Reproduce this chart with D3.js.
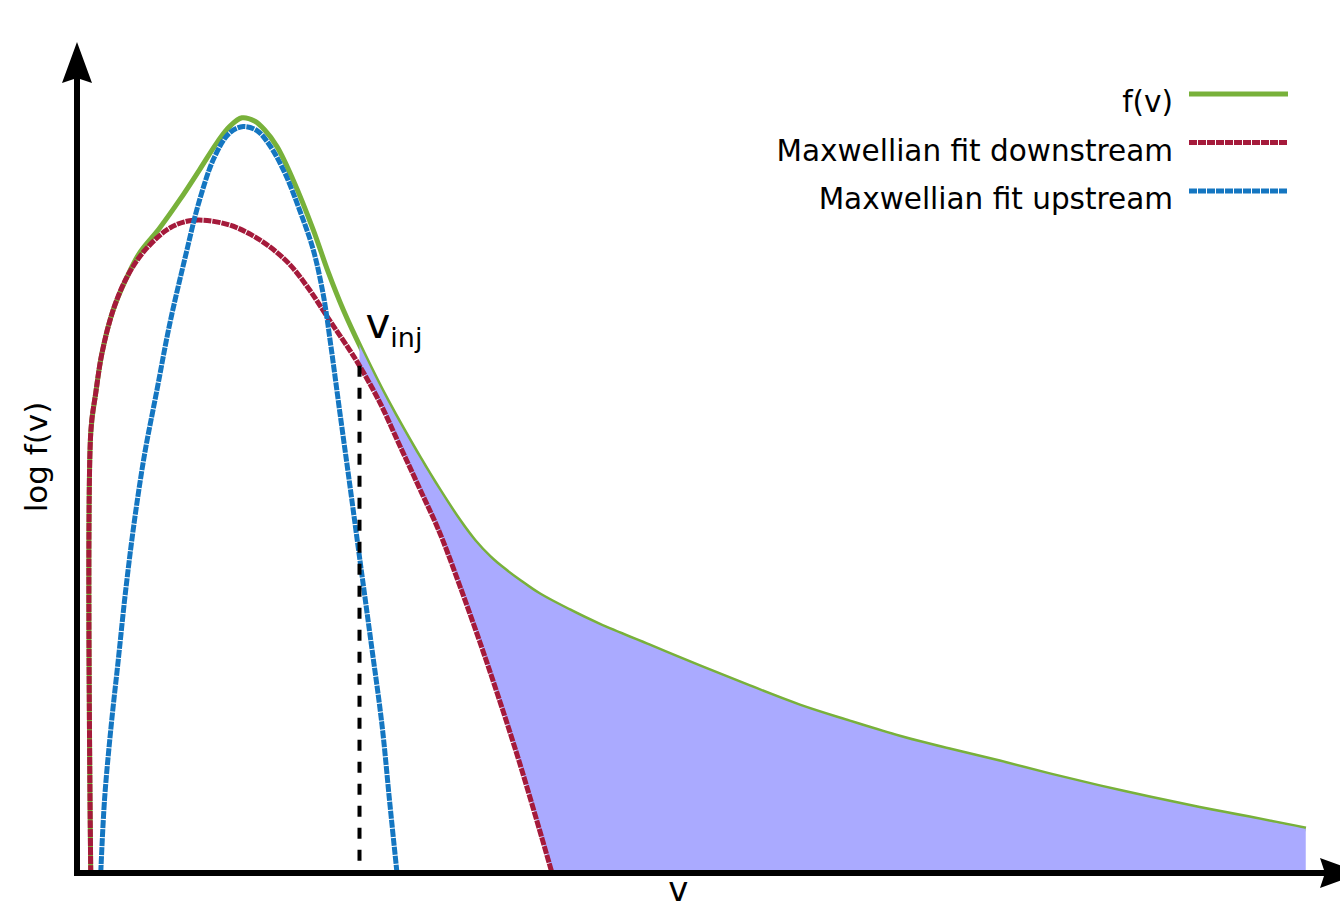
<!DOCTYPE html>
<html>
<head>
<meta charset="utf-8">
<script src="https://cdn.jsdelivr.net/npm/d3@7"></script>
<style>
  body { margin: 0; background: #fff; }
  svg { display: block; font-family: "DejaVu Sans", sans-serif; }
</style>
</head>
<body>
<svg id="chart"></svg>
<script>
// values, arbitrary units (v, log f)
var vF = [0.11, 0.11, 0.15, 0.2, 0.29, 0.4, 0.5, 0.66, 0.82, 0.98, 1.12, 1.22, 1.32, 1.42, 1.5, 1.6, 1.73, 1.89, 2.01, 2.13, 2.29, 2.48, 2.74, 2.9, 3.06, 3.18, 3.3, 3.42, 3.54, 3.7, 3.94, 4.18, 4.58, 4.98, 5.38, 5.78, 6.18, 6.58, 6.98, 7.38, 7.78, 8.18, 8.58, 8.98, 9.38, 9.83];
var fF = [0, 5.5, 6.0, 6.5, 7.04, 7.45, 7.75, 8.06, 8.41, 8.79, 9.13, 9.33, 9.44, 9.4, 9.29, 9.08, 8.66, 8.04, 7.51, 7.04, 6.5, 5.91, 5.19, 4.78, 4.4, 4.15, 3.95, 3.79, 3.65, 3.48, 3.28, 3.1, 2.84, 2.58, 2.33, 2.09, 1.89, 1.7, 1.54, 1.39, 1.23, 1.08, 0.94, 0.81, 0.69, 0.55];

var vDown = [0.11, 0.11, 0.15, 0.2, 0.29, 0.4, 0.53, 0.72, 0.86, 1.01, 1.22, 1.38, 1.54, 1.7, 1.86, 2.02, 2.18, 2.26, 2.42, 2.58, 2.74, 2.9, 3.06, 3.22, 3.38, 3.54, 3.7, 3.8];
var fDown = [0, 5.5, 6.0, 6.5, 7.04, 7.45, 7.76, 8.04, 8.14, 8.16, 8.1, 7.99, 7.83, 7.61, 7.29, 6.91, 6.54, 6.34, 5.89, 5.35, 4.81, 4.26, 3.6, 2.9, 2.16, 1.38, 0.54, 0];

var vUp = [0.19, 0.22, 0.27, 0.33, 0.39, 0.46, 0.54, 0.64, 0.74, 0.86, 0.98, 1.1, 1.22, 1.33, 1.44, 1.54, 1.66, 1.78, 1.89, 1.97, 2.03, 2.1, 2.18, 2.26, 2.35, 2.44, 2.5, 2.56];
var fUp = [0, 0.91, 1.79, 2.66, 3.54, 4.41, 5.23, 6.04, 6.85, 7.66, 8.41, 8.95, 9.25, 9.33, 9.28, 9.1, 8.76, 8.29, 7.79, 7.23, 6.6, 5.79, 4.88, 3.95, 2.91, 1.85, 0.91, 0];

var vInj = 2.26;

var legendLabels = ["f(v)", "Maxwellian fit downstream", "Maxwellian fit upstream"];
var legendColors = ["#78b13a", "#a51a3b", "#1476c1"];

var W = 1340, H = 909;
var svg = d3.select("#chart").attr("width", W).attr("height", H);

var x = d3.scaleLinear().domain([0, 10]).range([77, 1327]);
var y = d3.scaleLinear().domain([0, 10]).range([873, 73]);

var green = d3.zip(vF, fF);
var down = d3.zip(vDown, fDown);
var up = d3.zip(vUp, fUp);

var curve = d3.curveCatmullRom.alpha(0.5);

var line = d3.line()
  .x(d => x(d[0]))
  .y(d => y(d[1]))
  .curve(curve);

var area = d3.area()
  .x(d => x(d[0]))
  .y0(y(0))
  .y1(d => y(d[1]))
  .curve(curve);

// clip: right of v_inj and above the downstream fit
var defs = svg.append("defs");
defs.append("clipPath").attr("id", "rightOfInj")
  .append("rect")
  .attr("x", x(vInj)).attr("y", 0)
  .attr("width", W - x(vInj)).attr("height", y(0));
defs.append("clipPath").attr("id", "aboveDown")
  .append("path")
  .attr("d", line(down) + "L" + W + "," + y(0) + "L" + W + ",0L" + x(vDown[0]) + ",0Z");

// f(v)
svg.append("path")
  .attr("d", line(green))
  .attr("fill", "none")
  .attr("stroke", legendColors[0])
  .attr("stroke-width", 5)
  .attr("stroke-linejoin", "round");

// shaded tail
svg.append("g").attr("clip-path", "url(#rightOfInj)")
  .append("g").attr("clip-path", "url(#aboveDown)")
  .append("path")
  .attr("d", area(green))
  .attr("fill", "#aaaaff");

// Maxwellian fits
svg.append("path")
  .attr("d", line(down))
  .attr("fill", "none")
  .attr("stroke", legendColors[1])
  .attr("stroke-width", 5)
  .attr("stroke-dasharray", "8,1");

svg.append("path")
  .attr("d", line(up))
  .attr("fill", "none")
  .attr("stroke", legendColors[2])
  .attr("stroke-width", 5)
  .attr("stroke-dasharray", "8,1");

// v_inj marker
var injIdx = vDown.indexOf(vInj);
svg.append("line")
  .attr("x1", x(vInj)).attr("x2", x(vInj))
  .attr("y1", y(fDown[injIdx])).attr("y2", y(0))
  .attr("stroke", "#000")
  .attr("stroke-width", 4)
  .attr("stroke-dasharray", "11,11");

var injLabel = svg.append("text")
  .attr("x", x(vInj) + 6)
  .attr("y", y(fDown[injIdx]) - 28)
  .attr("font-size", 42)
  .text("v");
injLabel.append("tspan")
  .attr("font-size", 27)
  .attr("dy", 9)
  .text("inj");

// axes
var x0 = x(0), y0 = y(0);
var yTip = y(10) - 31, xTip = x(10) + 34;
var arrow = "M0,0L-41,-15L-36,0L-41,15Z";

svg.append("line")
  .attr("x1", x0).attr("x2", x0)
  .attr("y1", y0 + 3).attr("y2", yTip + 36)
  .attr("stroke", "#000").attr("stroke-width", 6);
svg.append("line")
  .attr("x1", x0 - 3).attr("x2", xTip - 36)
  .attr("y1", y0).attr("y2", y0)
  .attr("stroke", "#000").attr("stroke-width", 6);
svg.append("path")
  .attr("d", arrow)
  .attr("transform", "translate(" + x0 + "," + yTip + ") rotate(-90)");
svg.append("path")
  .attr("d", arrow)
  .attr("transform", "translate(" + xTip + "," + y0 + ")");

svg.append("text")
  .attr("transform", "translate(47," + (y(5.2)) + ") rotate(-90)")
  .attr("text-anchor", "middle")
  .attr("font-size", 31)
  .text("log f(v)");

svg.append("text")
  .attr("x", x(4.81))
  .attr("y", y0 + 28)
  .attr("text-anchor", "middle")
  .attr("font-size", 34)
  .text("v");

// legend
var legend = svg.append("g").attr("transform", "translate(1173,94)");
legendLabels.forEach(function(label, i) {
  var row = legend.append("g").attr("transform", "translate(0," + (i * 48.5) + ")");
  row.append("text")
    .attr("x", 0).attr("y", 18)
    .attr("text-anchor", "end")
    .attr("font-size", 29.5)
    .text(label);
  row.append("line")
    .attr("x1", 16).attr("x2", 115)
    .attr("y1", 0).attr("y2", 0)
    .attr("stroke", legendColors[i])
    .attr("stroke-width", 5)
    .attr("stroke-dasharray", i === 0 ? null : "8,1");
});
</script>
</body>
</html>
